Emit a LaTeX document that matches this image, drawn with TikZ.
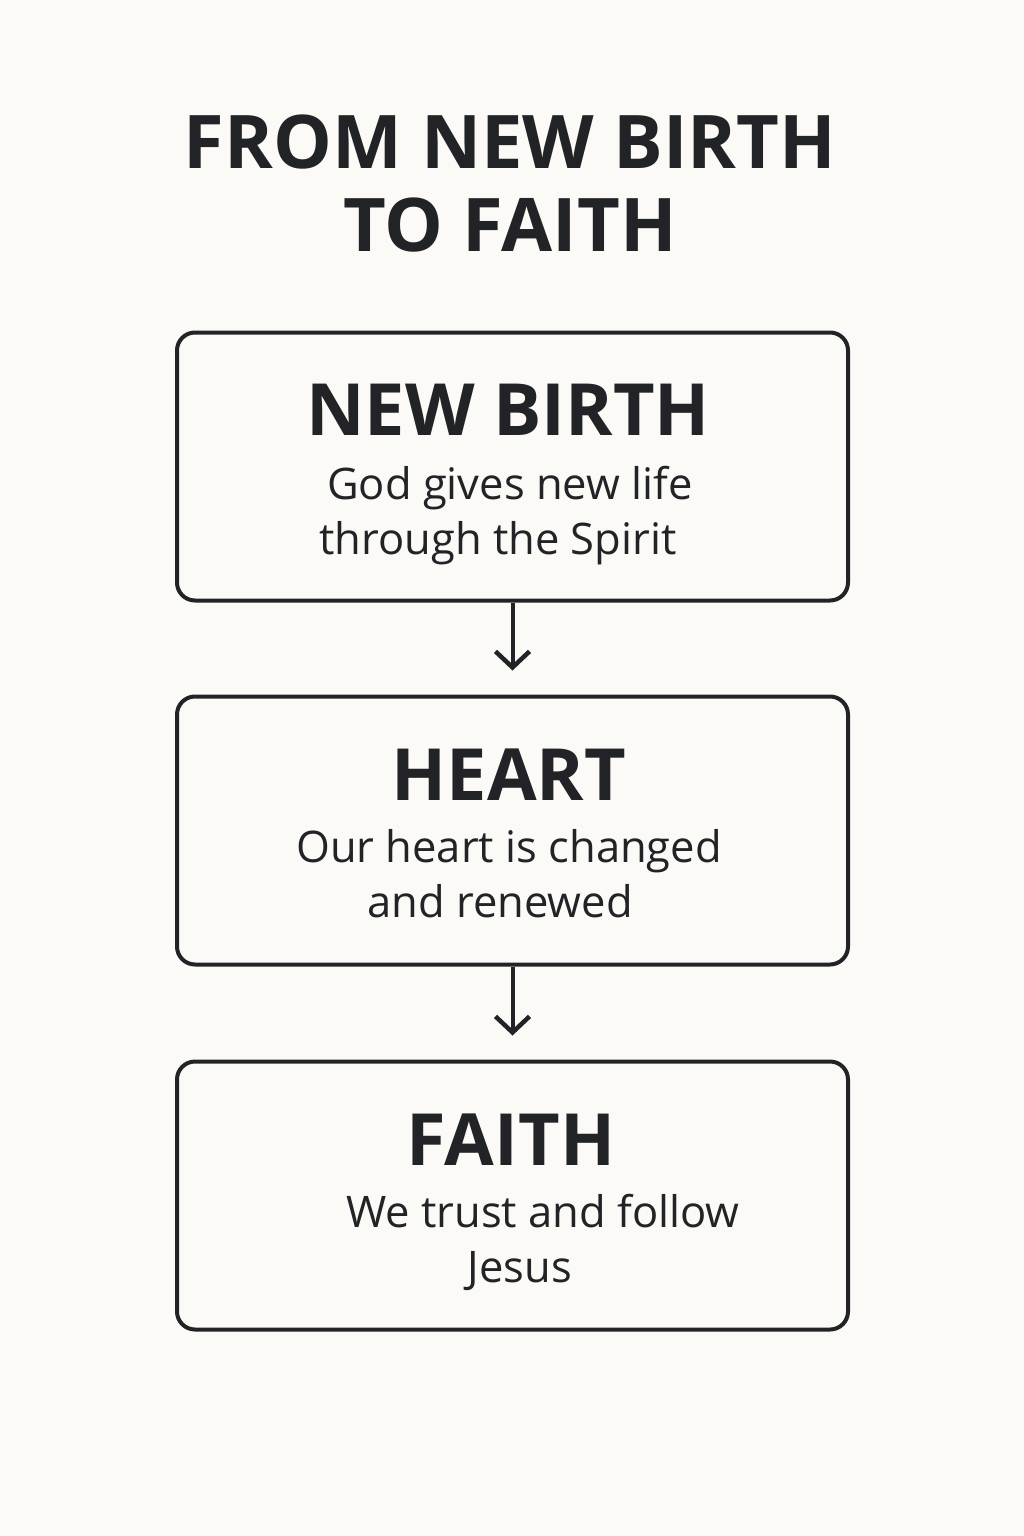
\documentclass[tikz,border=0pt]{standalone}
\usepackage{fontspec}
\setmainfont{Open Sans}
\usetikzlibrary{arrows.meta}
\definecolor{bg}{HTML}{FCFAF6}
\definecolor{ink}{HTML}{222326}
\begin{document}
\begin{tikzpicture}[x=1pt,y=-1pt,
  box/.style={draw=ink,line width=4pt,rounded corners=18pt,minimum width=671pt,minimum height=268pt,inner sep=0pt},
  ttl/.style={anchor=base,text=ink,font=\fontsize{74}{78}\selectfont\bfseries,inner sep=0pt},
  hd/.style={anchor=base,text=ink,font=\fontsize{72}{76}\selectfont\bfseries,inner sep=0pt},
  bd/.style={anchor=base,text=ink,font=\fontsize{43.5}{48}\selectfont,inner sep=0pt},
  arr/.style={draw=ink,line width=4pt,-{Straight Barb[length=16pt,width=34pt,line width=4.5pt]}}]
\fill[bg] (0,0) rectangle (1024,1536);
\useasboundingbox (0,0) rectangle (1024,1536);
\node[ttl] (t1) at (510,168) {FROM NEW BIRTH};
\node[ttl] (t2) at (510,251) {TO FAITH};
\node[box] (box1) at (512.5,466.5) {};
\node[box] (box2) at (512.5,830.5) {};
\node[box] (box3) at (512.5,1195.5) {};
\node[hd] (h1) at (508,435) {NEW BIRTH};
\node[bd] (b1a) at (510,499) {God gives new life};
\node[bd] (b1b) at (498,554) {through the Spirit};
\node[hd] (h2) at (509,800) {HEART};
\node[bd] (b2a) at (509,862) {Our heart is changed};
\node[bd] (b2b) at (500,917) {and renewed};
\node[hd] (h3) at (511,1165) {FAITH};
\node[bd] (b3a) at (543,1227) {We trust and follow};
\node[bd] (b3b) at (520,1282) {Jesus};
\draw[arr,shorten >=24pt] (box1.south) -- (box2.north);
\draw[arr,shorten >=24pt] (box2.south) -- (box3.north);
\end{tikzpicture}
\end{document}
